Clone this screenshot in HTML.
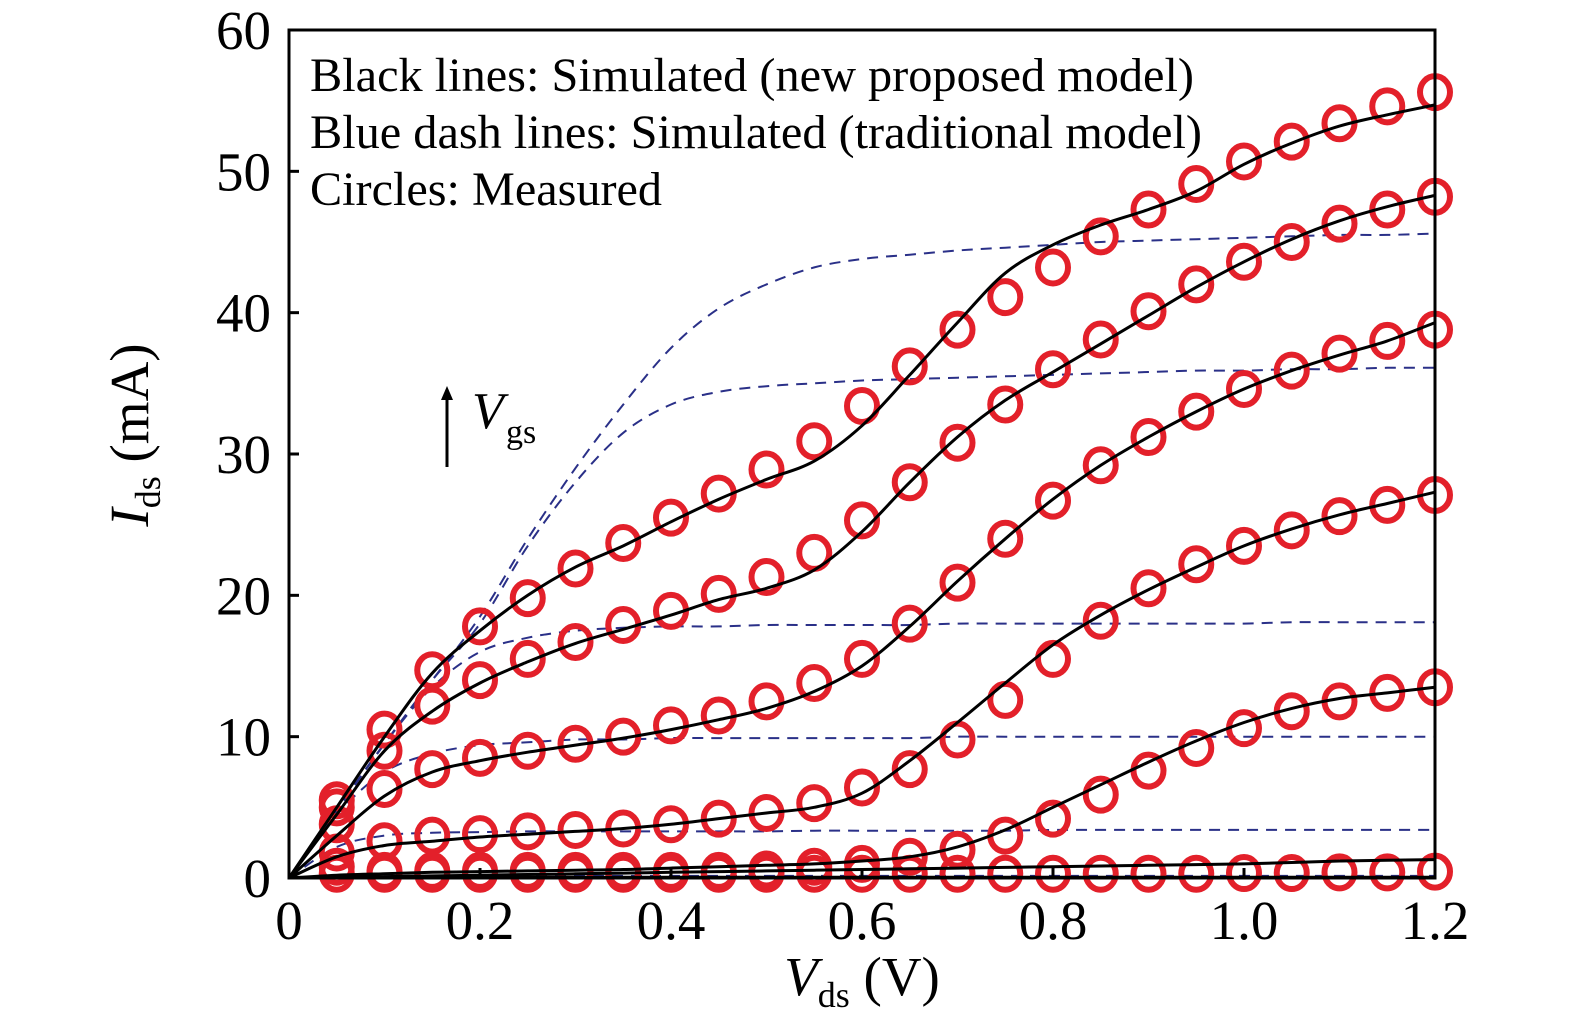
<!DOCTYPE html>
<html><head><meta charset="utf-8"><style>
html,body{margin:0;padding:0;background:#fff;}
svg{display:block;font-family:"Liberation Serif",serif;}
</style></head><body>
<svg id="chart" width="1575" height="1026" viewBox="0 0 1575 1026">
<g id="marks"></g>
<g id="axes"></g>
<text x="310" y="91" font-size="48" textLength="884" lengthAdjust="spacingAndGlyphs">Black lines: Simulated (new proposed model)</text>
<text x="310" y="148" font-size="48" textLength="892" lengthAdjust="spacingAndGlyphs">Blue dash lines: Simulated (traditional model)</text>
<text x="310" y="205" font-size="48" textLength="352" lengthAdjust="spacingAndGlyphs">Circles: Measured</text>
<g>
<line x1="447" y1="467" x2="447" y2="398" stroke="#000" stroke-width="3"/>
<polygon points="441,400 453,400 447,386" fill="#000"/>
<text x="472" y="428" font-size="52" font-style="italic">V</text>
<text x="506" y="443" font-size="34">gs</text>
</g>
<text x="148" y="435" font-size="55" transform="rotate(-90 148 435)" text-anchor="middle"><tspan font-style="italic">I</tspan><tspan font-size="36" dy="12">ds</tspan><tspan dy="-12"> (mA)</tspan></text>
<text x="862" y="995" font-size="55" text-anchor="middle"><tspan font-style="italic">V</tspan><tspan font-size="36" dy="12">ds</tspan><tspan dy="-12"> (V)</tspan></text>
</svg>
<script>
const xVals=[0,0.05,0.1,0.15,0.2,0.25,0.3,0.35,0.4,0.45,0.5,0.55,0.6,0.65,0.7,0.75,0.8,0.85,0.9,0.95,1.0,1.05,1.1,1.15,1.2];
const meas7=[0,5.5,10.5,14.7,17.8,19.8,21.9,23.7,25.5,27.2,28.9,30.9,33.4,36.2,38.8,41.1,43.2,45.4,47.3,49.1,50.7,52.1,53.4,54.6,55.6];
const meas6=[0,5,9,12.2,14,15.5,16.7,17.9,18.9,20.1,21.3,23,25.3,28,30.8,33.5,36,38.1,40.1,42,43.6,45,46.3,47.3,48.2];
const meas5=[0,3.8,6.3,7.7,8.5,9.0,9.5,10.0,10.8,11.5,12.5,13.8,15.5,18,20.9,24,26.7,29.2,31.2,33,34.6,35.9,37.1,38,38.8];
const meas4=[0,1.8,2.6,3.0,3.1,3.3,3.4,3.5,3.8,4.2,4.6,5.3,6.4,7.7,9.8,12.6,15.5,18.2,20.5,22.2,23.5,24.6,25.6,26.4,27.1];
const meas3=[0,0.8,0.5,0.5,0.5,0.5,0.5,0.5,0.5,0.5,0.6,0.8,1.0,1.5,2.0,3.0,4.2,5.9,7.6,9.2,10.6,11.8,12.5,13.1,13.5];
const meas2=[0,0.3,0.3,0.3,0.3,0.3,0.3,0.3,0.3,0.3,0.3,0.3,0.3,0.3,0.3,0.3,0.3,0.3,0.3,0.3,0.35,0.35,0.4,0.4,0.45];
const sim7=[0,5,10,14.5,17.5,20,22,23.5,25.2,26.8,28.2,29.5,32,35.6,39.3,42.8,44.8,46.2,47.3,48.6,50.5,52,53.2,54,54.7];
const sim6=[0,4.5,9,11.8,13.8,15.3,16.6,17.6,18.6,19.7,20.5,21.8,24.5,28,31.2,33.8,35.8,37.8,39.8,41.8,43.6,45.2,46.5,47.5,48.3];
const sim5=[0,3,5.8,7.5,8.3,8.9,9.4,9.9,10.5,11.2,12,13.2,15,17.8,21,24,26.8,29.2,31.2,33,34.6,35.9,37,38,39.3];
const sim4=[0,1.5,2.3,2.6,2.9,3.1,3.3,3.5,3.8,4.2,4.6,5.0,6.0,8.3,11,13.8,16.5,18.6,20.4,22,23.5,24.7,25.7,26.5,27.3];
const sim3=[0,0.2,0.3,0.4,0.45,0.5,0.55,0.6,0.7,0.8,0.9,1.0,1.2,1.5,2.2,3.4,5.0,6.6,8.2,9.7,11,12,12.7,13.1,13.5];
const sim2=[0,0.05,0.1,0.15,0.2,0.25,0.3,0.35,0.4,0.45,0.5,0.55,0.6,0.65,0.7,0.75,0.8,0.85,0.9,0.95,1.0,1.1,1.2,1.25,1.3];
const sim1=[0,0.02,0.03,0.04,0.05,0.05,0.05,0.05,0.05,0.05,0.05,0.05,0.05,0.05,0.05,0.05,0.05,0.05,0.05,0.05,0.05,0.05,0.05,0.05,0.05];
const trad7=[0,4.8,9.5,14,18.5,24,29,33.5,37.5,40.3,42,43.2,43.8,44.1,44.4,44.6,44.8,45,45.1,45.2,45.3,45.4,45.5,45.5,45.6];
const trad6=[0,4.8,9.5,14,18,23.5,28,31.5,33.5,34.4,34.8,35,35.2,35.3,35.4,35.5,35.6,35.7,35.8,35.9,35.9,36,36,36.1,36.1];
const trad5=[0,4.8,9.5,13.5,16,17,17.5,17.7,17.8,17.8,17.9,17.9,17.9,17.9,18,18,18,18,18,18,18,18.1,18.1,18.1,18.1];
const trad4=[0,4.5,7.5,8.8,9.4,9.6,9.8,9.8,9.9,9.9,9.9,9.9,9.9,9.9,10,10,10,10,10,10,10,10,10,10,10];
const trad3=[0,2.2,3.0,3.2,3.25,3.3,3.3,3.3,3.3,3.3,3.3,3.35,3.35,3.35,3.35,3.35,3.4,3.4,3.4,3.4,3.4,3.4,3.4,3.4,3.4];
const trad2=[0,0.1,0.12,0.13,0.14,0.15,0.15,0.15,0.15,0.15,0.15,0.15,0.15,0.15,0.15,0.15,0.15,0.15,0.15,0.15,0.15,0.15,0.15,0.15,0.15];
const xTicks=[0,0.2,0.4,0.6,0.8,1.0,1.2];
const xTickLabels=["0","0.2","0.4","0.6","0.8","1.0","1.2"];
const yTicks=[0,10,20,30,40,50,60];
const yTickLabels=["0","10","20","30","40","50","60"];

const NS="http://www.w3.org/2000/svg";
const X0=289,X1=1435,Y0=878,Y1=30;
function sx(v){return X0+(v-0)/(1.2-0)*(X1-X0);}
function sy(v){return Y0-(v-0)/(60-0)*(Y0-Y1);}
function smooth(xs,ys){
  const p=xs.map((x,i)=>[sx(x),sy(ys[i])]);
  let d="M"+p[0][0]+","+p[0][1];
  for(let i=0;i<p.length-1;i++){
    const a=p[Math.max(0,i-1)],b=p[i],c=p[i+1],e=p[Math.min(p.length-1,i+2)];
    const c1=[b[0]+(c[0]-a[0])/6,b[1]+(c[1]-a[1])/6];
    const c2=[c[0]-(e[0]-b[0])/6,c[1]-(e[1]-b[1])/6];
    d+=" C"+c1[0].toFixed(1)+","+c1[1].toFixed(1)+" "+c2[0].toFixed(1)+","+c2[1].toFixed(1)+" "+c[0].toFixed(1)+","+c[1].toFixed(1);
  }
  return d;
}
const marks=document.getElementById('marks');
const axes=document.getElementById('axes');
[trad2,trad3,trad4,trad5,trad6,trad7].forEach((ys,k)=>{
  const el=document.createElementNS(NS,'path');
  el.setAttribute('d',smooth(xVals,ys));
  el.setAttribute('fill','none');el.setAttribute('stroke','#2a3088');el.setAttribute('stroke-width','2');el.setAttribute('stroke-dasharray','11 8');
  
  
  marks.appendChild(el);
});
[meas2,meas3,meas4,meas5,meas6,meas7].forEach(ys=>{
  ys.forEach((v,i)=>{
    if(i===0)return;
    const c=document.createElementNS(NS,'ellipse');
    c.setAttribute('cx',sx(xVals[i]));c.setAttribute('cy',sy(v));
    c.setAttribute('rx','15');c.setAttribute('ry','16');
    c.setAttribute('fill','none');c.setAttribute('stroke','#e3202a');c.setAttribute('stroke-width','6');
    
    
    marks.appendChild(c);
  });
});
[sim1,sim2,sim3,sim4,sim5,sim6,sim7].forEach(ys=>{
  const el=document.createElementNS(NS,'path');
  el.setAttribute('d',smooth(xVals,ys));
  el.setAttribute('fill','none');el.setAttribute('stroke','#000');el.setAttribute('stroke-width','3');
  
  
  marks.appendChild(el);
});
const frame=document.createElementNS(NS,'rect');
frame.setAttribute('x',X0);frame.setAttribute('y',Y1);frame.setAttribute('width',X1-X0);frame.setAttribute('height',Y0-Y1);
frame.setAttribute('fill','none');frame.setAttribute('stroke','#000');frame.setAttribute('stroke-width','3');


axes.appendChild(frame);
xTicks.forEach((v,i)=>{
  const t=document.createElementNS(NS,'line');
  t.setAttribute('x1',sx(v));t.setAttribute('x2',sx(v));t.setAttribute('y1',Y0);t.setAttribute('y2',Y0-10);
  t.setAttribute('stroke','#000');t.setAttribute('stroke-width','3');
  
  
  axes.appendChild(t);
  const l=document.createElementNS(NS,'text');
  l.setAttribute('x',sx(v));l.setAttribute('y',Y0+61);l.setAttribute('font-size','55');l.setAttribute('text-anchor','middle');
  l.textContent=xTickLabels[i];
  
  
  axes.appendChild(l);
});
yTicks.forEach((v,i)=>{
  const t=document.createElementNS(NS,'line');
  t.setAttribute('x1',X0);t.setAttribute('x2',X0+10);t.setAttribute('y1',sy(v));t.setAttribute('y2',sy(v));
  t.setAttribute('stroke','#000');t.setAttribute('stroke-width','3');
  
  
  axes.appendChild(t);
  const l=document.createElementNS(NS,'text');
  l.setAttribute('x',X0-18);l.setAttribute('y',sy(v)+19);l.setAttribute('font-size','55');l.setAttribute('text-anchor','end');
  l.textContent=yTickLabels[i];
  
  
  axes.appendChild(l);
});
</script>
</body></html>
